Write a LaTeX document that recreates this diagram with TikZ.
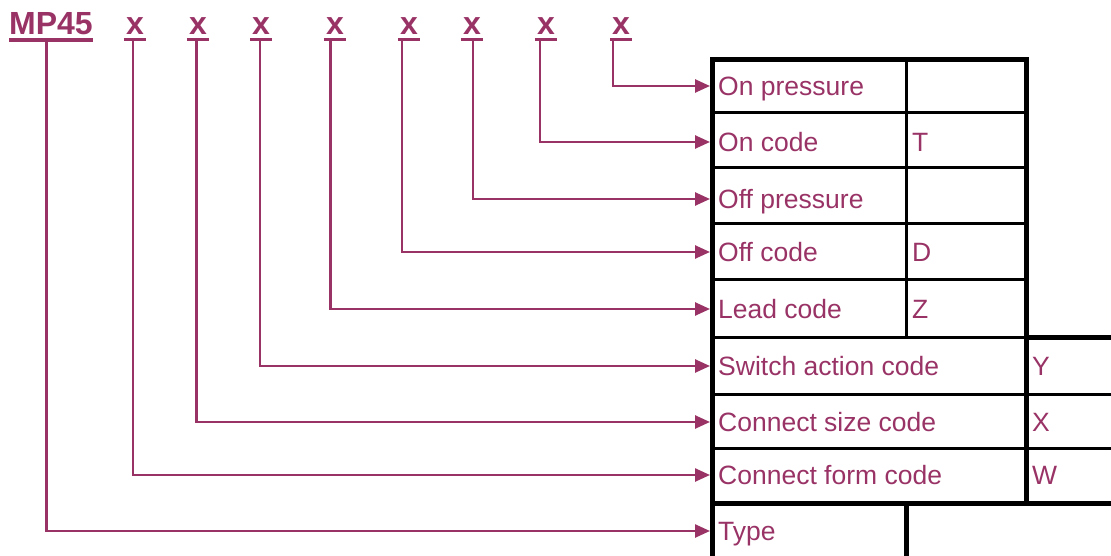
\documentclass[tikz,border=0pt]{standalone}
\usepackage{fontspec}
\setmainfont{Liberation Sans}
\usetikzlibrary{arrows.meta}
\definecolor{plum}{HTML}{993366}
\newcommand\lbfont{\fontsize{26.5}{30}\selectfont}
\newcommand\hdfont{\fontsize{32}{36}\selectfont\bfseries}
\tikzset{
  place/.style={text=plum, font=\hdfont, anchor=base, inner xsep=2pt, inner ysep=0pt},
  cell/.style={text=plum, font=\lbfont, anchor=west, inner xsep=8pt, inner ysep=0pt, text height=19pt, text depth=0pt},
  code/.style={text=plum, font=\lbfont, anchor=west, inner sep=0pt, text height=19pt, text depth=0pt},
  lead/.style={draw=plum, line width=2.5pt, -{Triangle[length=15pt,width=13pt]}},
  uline/.style={draw=plum, line width=3.5pt},
  thickrule/.style={draw=black, line width=5pt},
  thinrule/.style={draw=black, line width=3pt}
}

\begin{document}
\begin{tikzpicture}[x=1pt,y=-1pt]
  \useasboundingbox (0,0) rectangle (1111,556);
  % model code and its placeholders
  \node[place, inner xsep=0pt] (mp) at (51,34.5) {MP45};
  \node[place] (m1) at (135,34.5) {x};
  \node[place] (m2) at (198,34.5) {x};
  \node[place] (m3) at (261,34.5) {x};
  \node[place] (m4) at (335,34.5) {x};
  \node[place] (m5) at (409,34.5) {x};
  \node[place] (m6) at (472,34.5) {x};
  \node[place] (m7) at (546,34.5) {x};
  \node[place] (m8) at (621,34.5) {x};
  \foreach \m in {mp,m1,m2,m3,m4,m5,m6,m7,m8}
    \draw[uline] ([yshift=-5pt]\m.south west) -- ([yshift=-5pt]\m.south east);

  % row labels
  \node[cell] (r1) at (710,86) {On pressure};
  \node[cell] (r2) at (710,142) {On code};
  \node[cell] (r3) at (710,199) {Off pressure};
  \node[cell] (r4) at (710,252) {Off code};
  \node[cell] (r5) at (710,309) {Lead code};
  \node[cell] (r6) at (710,366) {Switch action code};
  \node[cell] (r7) at (710,422) {Connect size code};
  \node[cell] (r8) at (710,475) {Connect form code};
  \node[cell] (r9) at (710,531) {Type};

  % code letters
  \node[code] (t) at (912,142) {T};
  \node[code] (d) at (912,252) {D};
  \node[code] (z) at (912,309) {Z};
  \node[code] (y) at (1032,366) {Y};
  \node[code] (xx) at (1032,422) {X};
  \node[code] (w) at (1032,475) {W};

  % leaders
  \draw[lead] ([xshift=-8pt,yshift=-6pt]m8.south) |- (r1.west);
  \draw[lead] ([xshift=-6pt,yshift=-6pt]m7.south) |- (r2.west);
  \draw[lead] ([xshift=1pt,yshift=-6pt]m6.south) |- (r3.west);
  \draw[lead] ([xshift=-7pt,yshift=-6pt]m5.south) |- (r4.west);
  \draw[lead] ([xshift=-4.5pt,yshift=-6pt]m4.south) |- (r5.west);
  \draw[lead] ([xshift=-1pt,yshift=-6pt]m3.south) |- (r6.west);
  \draw[lead] ([xshift=-1.5pt,yshift=-6pt]m2.south) |- (r7.west);
  \draw[lead] ([xshift=-2pt,yshift=-6pt]m1.south) |- (r8.west);
  \draw[lead] ([xshift=-4.5pt,yshift=-6pt]mp.south) |- (r9.west);

  % table
  \draw[thinrule] (712,113) -- (1026,113);
  \draw[thinrule] (712,168) -- (1026,168);
  \draw[thinrule] (712,224) -- (1026,224);
  \draw[thinrule] (712,279) -- (1026,279);
  \draw[thinrule] (712,337) -- (1026,337);
  \draw[thickrule] (1026,337) -- (1111,337);
  \draw[thinrule] (712,394) -- (1111,394);
  \draw[thinrule] (712,448) -- (1111,448);
  \draw[thinrule] (906,60) -- (906,337);
  \draw[thickrule] (712,503) -- (1111,503);
  \draw[thickrule] (906,503) -- (906,556);
  \draw[thickrule] (712,556) -- (712,60) -- (1026,60) -- (1026,503);
\end{tikzpicture}
\end{document}
